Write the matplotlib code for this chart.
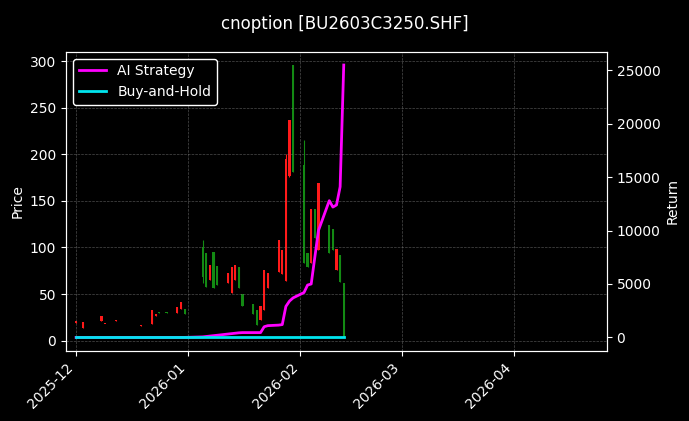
import matplotlib
matplotlib.use("Agg")
import matplotlib.pyplot as plt
import matplotlib.dates as mdates
import pandas as pd
import numpy as np

plt.style.use("dark_background")

candle_dates = ["2025-12-01","2025-12-03","2025-12-04","2025-12-08","2025-12-09","2025-12-10",
    "2025-12-12","2025-12-15","2025-12-17","2025-12-19","2025-12-22","2025-12-23","2025-12-24",
    "2025-12-26","2025-12-29","2025-12-30","2025-12-31",
    "2026-01-05","2026-01-06","2026-01-07","2026-01-08","2026-01-09","2026-01-12","2026-01-13",
    "2026-01-14","2026-01-15","2026-01-16","2026-01-19","2026-01-20","2026-01-21","2026-01-22",
    "2026-01-23","2026-01-26","2026-01-27","2026-01-28","2026-01-29","2026-01-30",
    "2026-02-02","2026-02-03","2026-02-04","2026-02-05","2026-02-06","2026-02-09","2026-02-10",
    "2026-02-11","2026-02-12","2026-02-13"]
opens  = [19.2,13.2,38,21.4,17.8,25.0,21.5,17.5,17.5,16.0,17.8,26,30.5,30.5,29.3,34,33.5,
          100,93.7,65,95,80,62,51,65,79,50,39,33,22,33,57,74,72,64,177,296,
          188,94,83,141,97,124,120,76,92,62]
closes = [21.4,20.3,38.5,26.7,18.2,25.6,22.0,17.8,17.8,16.4,32.8,29,30.0,30.0,36.4,41.7,29.0,
          68,57.9,81,56,60,73,79,81,57,37,29,17,37,76,73,108,97,195,237,181,
          83,79,141,110,169,94,97,98,63,4]
highs  = [21.4,20.3,38.5,26.7,18.2,25.6,22.0,17.8,17.8,16.4,32.8,29,30.5,30.5,36.4,41.7,33.5,
          108,93.7,81,95,80,73,79,81,79,50,39,33,37,76,73,108,97,200,237,296,
          215,94,141,141,169,124,120,98,92,62]
lows   = [19.2,13.2,38,21.4,17.8,25.0,21.5,17.5,17.5,16.0,17.8,26,30.0,30.0,29.3,34,29.0,
          62,57.9,65,56,60,62,51,65,57,37,29,17,22,33,57,74,72,64,176,181,
          83,79,83,110,97,94,97,76,63,4]

strat_dates = ["2025-12-01","2025-12-31","2026-01-05","2026-01-09","2026-01-15","2026-01-16",
    "2026-01-21","2026-01-22","2026-01-23","2026-01-26","2026-01-27","2026-01-28","2026-01-29",
    "2026-01-30","2026-02-02","2026-02-03","2026-02-04","2026-02-05","2026-02-06","2026-02-09",
    "2026-02-10","2026-02-11","2026-02-12","2026-02-13"]
strat_vals = [0,0,50,200,430,450,450,1000,1100,1150,1200,2900,3400,3700,4200,4900,5000,
              7500,10000,12800,12200,12400,14100,25500]
bh_dates = ["2025-12-01","2026-02-13"]
bh_vals = [0,0]

fig = plt.figure(figsize=(6.89,4.21), dpi=100, facecolor="black")
ax = fig.add_axes([0.0958,0.166,0.785,0.711])
ax.set_facecolor("black")
ax2 = ax.twinx()

cd = mdates.date2num(pd.to_datetime(candle_dates))
for d,o,c,h,l in zip(cd,opens,closes,highs,lows):
    col = "#ff1a1a" if c >= o else "#138a13"
    ax.vlines(d, l, h, color=col, lw=0.8)
    ax.bar(d, max(abs(c-o),0.8), bottom=min(o,c), width=0.6, color=col)

ax2.plot(pd.to_datetime(strat_dates), strat_vals, color="#ff00ff", lw=2, label="AI Strategy")
ax2.plot(pd.to_datetime(bh_dates), bh_vals, color="#00e5ee", lw=2, label="Buy-and-Hold")

ax.set_xlim(mdates.date2num(pd.Timestamp("2025-11-28 05:00")), mdates.date2num(pd.Timestamp("2026-04-26 18:00")))
ax.set_ylim(-11.2, 310)
ax2.set_ylim(-1284, 26740)
ax.set_yticks(range(0,301,50))
ax2.set_yticks(range(0,25001,5000))
ax.xaxis.set_major_locator(mdates.MonthLocator())
ax.xaxis.set_major_formatter(mdates.DateFormatter("%Y-%m"))
plt.setp(ax.get_xticklabels(), rotation=45, ha="right")
ax.grid(True, color="gray", ls="--", lw=0.5, alpha=0.6)
ax.set_ylabel("Price")
ax2.set_ylabel("Return")
ax2.legend(loc="upper left", facecolor="black", edgecolor="white", framealpha=1)
fig.suptitle("cnoption [BU2603C3250.SHF]", y=0.965, fontsize=12)
fig.savefig("out.png", dpi=100, facecolor="black")
